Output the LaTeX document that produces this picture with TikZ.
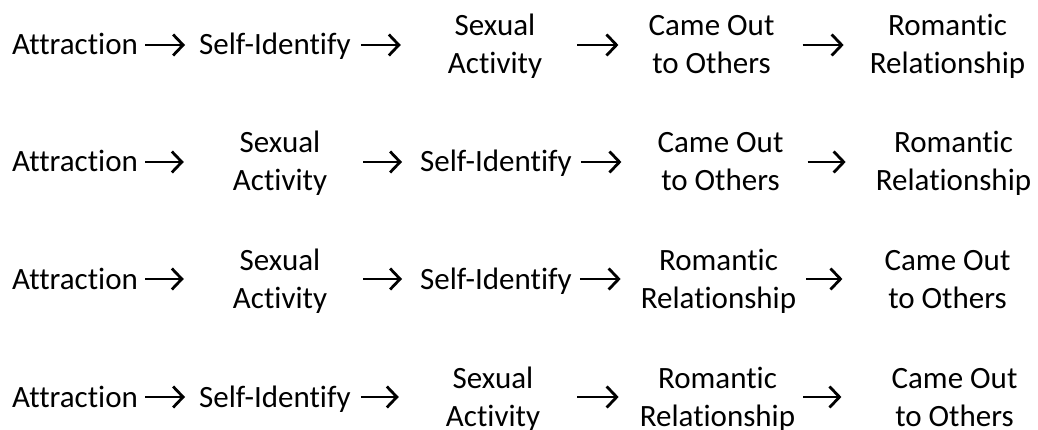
\documentclass[tikz,border=0pt]{standalone}
\usepackage{fontspec}
\setmainfont{Carlito}[Ligatures=NoCommon]
\usetikzlibrary{arrows.meta}

% strut that puts a line's centre on the arrow height
\newcommand{\rowstrut}{\rule[-9pt]{0pt}{38pt}}

\begin{document}
\begin{tikzpicture}[
  x=1pt, y=-1pt,
  stage/.style     = {font=\fontsize{31}{38}\selectfont, align=center, inner sep=0pt},
  flow/.style      = {line width=2.8pt, -{Straight Barb[length=10pt,width=21pt]}},
  gap/.style 2 args = {shorten <=#1pt, shorten >=#2pt},   % room before / after the text
]
  \useasboundingbox (0,0) rectangle (1038,430);

  % first order: identify, act, come out, relationship
  \node[stage] (att1) at (75,45)    {\rowstrut Attraction};
  \node[stage] (sid1) at (275,45)   {\rowstrut Self-Identify};
  \node[stage] (sex1) at (495,45)   {\rowstrut Sexual\\\rowstrut Activity};
  \node[stage] (cam1) at (711.5,45) {\rowstrut Came Out\\\rowstrut to Others};
  \node[stage] (rom1) at (947.5,45) {\rowstrut Romantic\\\rowstrut Relationship};

  \draw[flow,gap={7}{14}]  (att1) -- (sid1);
  \draw[flow,gap={10}{47}] (sid1) -- (sex1);
  \draw[flow,gap={35}{30}] (sex1) -- (cam1);
  \draw[flow,gap={28}{26}] (cam1) -- (rom1);

  % second order: act before identify
  \node[stage] (att2) at (75,162)    {\rowstrut Attraction};
  \node[stage] (sex2) at (280,162)   {\rowstrut Sexual\\\rowstrut Activity};
  \node[stage] (sid2) at (496,162)   {\rowstrut Self-Identify};
  \node[stage] (cam2) at (720.5,162) {\rowstrut Came Out\\\rowstrut to Others};
  \node[stage] (rom2) at (953.5,162) {\rowstrut Romantic\\\rowstrut Relationship};

  \draw[flow,gap={7}{49}]  (att2) -- (sex2);
  \draw[flow,gap={36}{18}] (sex2) -- (sid2);
  \draw[flow,gap={9}{36}]  (sid2) -- (cam2);
  \draw[flow,gap={24}{30}] (cam2) -- (rom2);

  % third order: relationship before coming out
  \node[stage] (att3) at (75,279)    {\rowstrut Attraction};
  \node[stage] (sex3) at (280,279)   {\rowstrut Sexual\\\rowstrut Activity};
  \node[stage] (sid3) at (496,279)   {\rowstrut Self-Identify};
  \node[stage] (rom3) at (718.5,279) {\rowstrut Romantic\\\rowstrut Relationship};
  \node[stage] (cam3) at (947.5,279) {\rowstrut Came Out\\\rowstrut to Others};

  \draw[flow,gap={7}{49}]  (att3) -- (sex3);
  \draw[flow,gap={36}{18}] (sex3) -- (sid3);
  \draw[flow,gap={8}{20}]  (sid3) -- (rom3);
  \draw[flow,gap={10}{42}] (rom3) -- (cam3);

  % fourth order
  \node[stage] (att4) at (75,397)    {\rowstrut Attraction};
  \node[stage] (sid4) at (275,397)   {\rowstrut Self-Identify};
  \node[stage] (sex4) at (493,397)   {\rowstrut Sexual\\\rowstrut Activity};
  \node[stage] (rom4) at (717.5,397) {\rowstrut Romantic\\\rowstrut Relationship};
  \node[stage] (cam4) at (954.5,397) {\rowstrut Came Out\\\rowstrut to Others};

  \draw[flow,gap={7}{14}]  (att4) -- (sid4);
  \draw[flow,gap={10}{47}] (sid4) -- (sex4);
  \draw[flow,gap={37}{21}] (sex4) -- (rom4);
  \draw[flow,gap={8}{50}]  (rom4) -- (cam4);
\end{tikzpicture}
\end{document}
